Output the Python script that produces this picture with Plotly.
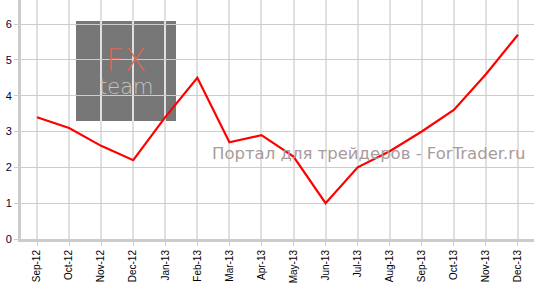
import plotly.graph_objects as go

months = ["Sep-12", "Oct-12", "Nov-12", "Dec-12", "Jan-13", "Feb-13", "Mar-13", "Apr-13",
          "May-13", "Jun-13", "Jul-13", "Aug-13", "Sep-13", "Oct-13", "Nov-13", "Dec-13"]
values = [3.4, 3.1, 2.6, 2.2, 3.4, 4.5, 2.7, 2.9, 2.3, 1.0, 2.0, 2.45, 3.0, 3.6, 4.6, 5.7]
y_ticks = [0, 1, 2, 3, 4, 5, 6]

fig = go.Figure()
fig.add_trace(go.Scatter(x=months, y=values, mode="lines",
                         line=dict(color="#ff0000", width=2.2), hoverinfo="skip"))


def px(xp):
    return (xp - 21) / 513


def py(yp):
    return (239 - yp) / 239


# logo block
fig.add_shape(type="rect", xref="paper", yref="paper",
              x0=px(76), x1=px(176), y0=py(121), y1=py(21),
              fillcolor="#777777", line=dict(width=0), layer="below")
fig.add_annotation(xref="paper", yref="paper", x=px(126), y=py(60),
                   xanchor="center", yanchor="middle", text="FX", showarrow=False,
                   font=dict(family="DejaVu Sans", size=32, weight=200, color="#d0695b"))
fig.add_annotation(xref="paper", yref="paper", x=px(126), y=py(87),
                   xanchor="center", yanchor="middle", text="team", showarrow=False,
                   font=dict(family="DejaVu Sans", size=21, weight=200, color="#c4c4c4"))
fig.add_annotation(xref="paper", yref="paper", x=px(528), y=py(153),
                   xanchor="right", yanchor="middle",
                   text="Портал для трейдеров - ForTrader.ru", showarrow=False,
                   font=dict(family="DejaVu Sans", size=16.5, color="#a89c9c"))

fig.update_layout(
    width=534, height=283,
    margin=dict(l=21, r=0, t=0, b=44),
    paper_bgcolor="white", plot_bgcolor="white",
    showlegend=False,
    xaxis=dict(type="category", range=[-0.5, 15.5], tickangle=-90,
               showgrid=True, gridcolor="#e0e0e0", gridwidth=2,
               ticks="outside", ticklen=4, tickcolor="#cccccc",
               showline=True, linecolor="#cccccc", linewidth=3,
               tickfont=dict(family="Arial", size=10, color="#000000"), zeroline=False),
    yaxis=dict(range=[0, 6.67], tickvals=y_ticks,
               showgrid=True, gridcolor="#cccccc", gridwidth=1,
               ticks="outside", ticklen=4, tickcolor="#cccccc",
               showline=True, linecolor="#cccccc", linewidth=3,
               tickfont=dict(family="Arial", size=11, color="#000033"), zeroline=False),
)

fig.write_html("out.html")
